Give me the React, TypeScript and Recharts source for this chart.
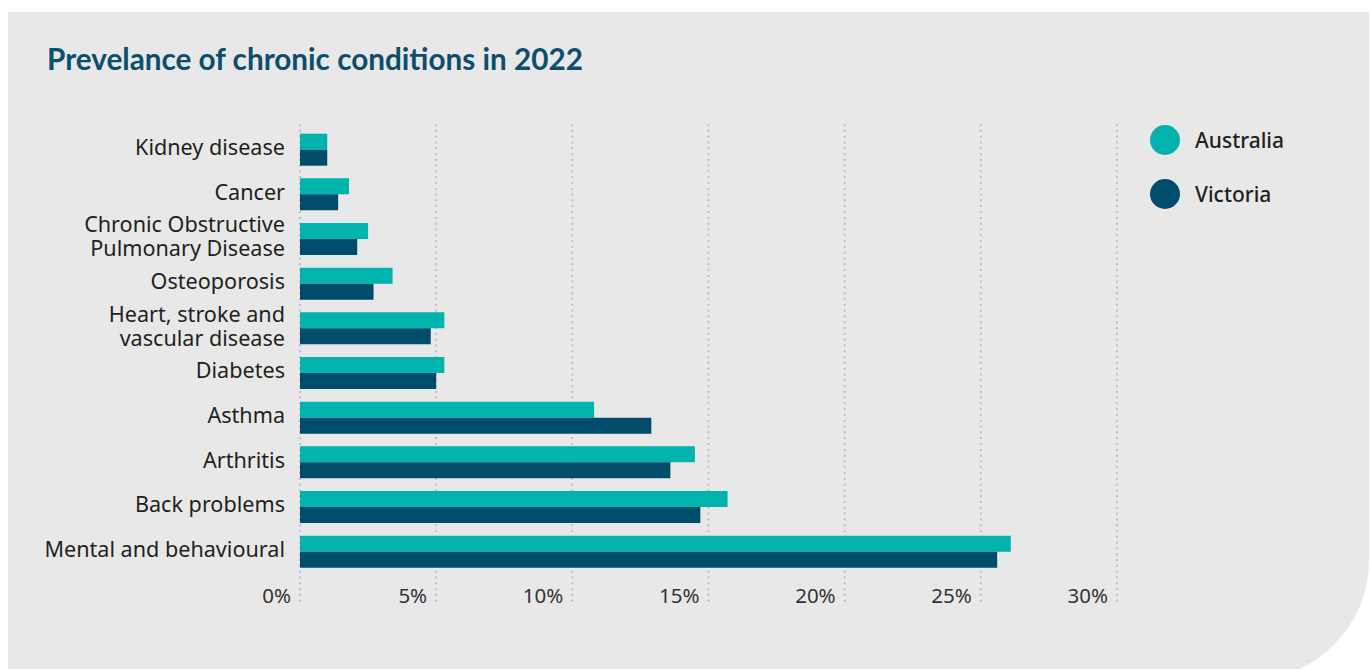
import React from 'react';
import { BarChart, Bar, XAxis, YAxis, CartesianGrid, Legend } from 'recharts';

const conditions = [
  'Kidney disease',
  'Cancer',
  'Chronic Obstructive\nPulmonary Disease',
  'Osteoporosis',
  'Heart, stroke and\nvascular disease',
  'Diabetes',
  'Asthma',
  'Arthritis',
  'Back problems',
  'Mental and behavioural',
];
const australia = [1.0, 1.8, 2.5, 3.4, 5.3, 5.3, 10.8, 14.5, 15.7, 26.1];
const victoria = [1.0, 1.4, 2.1, 2.7, 4.8, 5.0, 12.9, 13.6, 14.7, 25.6];
const xTicks = [0, 5, 10, 15, 20, 25, 30];

const AUS = '#00b3ad';
const VIC = '#004c6c';
const GRID = '#bdbdbd';
const FONT = '"Noto Sans", Lato, sans-serif';
const TITLE_FONT = 'Lato, "Noto Sans", sans-serif';

const data = conditions.map((name, i) => ({
  name,
  Australia: australia[i],
  Victoria: victoria[i],
}));

// category labels, wrapped on \n, right-aligned against the bars
const CategoryTick = (props: any) => {
  const { x, y, payload } = props;
  const lines = String(payload.value).split('\n');
  const first = lines.length > 1 ? -7 : 5;
  return (
    <text x={x - 7} y={y} textAnchor="end" fill="#231f20" fontSize={21.6} fontFamily={FONT}>
      {lines.map((l, i) => (
        <tspan key={i} x={x - 7} dy={i === 0 ? first : 24}>{l}</tspan>
      ))}
    </text>
  );
};

const PercentTick = (props: any) => {
  const { x, y, payload } = props;
  return (
    <text x={x - 9} y={y} dy={-9} textAnchor="end" fill="#333" fontSize={20.5} fontFamily={FONT}>
      {`${payload.value}%`}
    </text>
  );
};

const LegendContent = (props: any) => {
  const { payload } = props;
  return (
    <div style={{ fontFamily: FONT }}>
      {payload.map((p: any) => (
        <div key={p.value} style={{ display: 'flex', alignItems: 'center', height: 54 }}>
          <span style={{ width: 30, height: 30, borderRadius: 15, background: p.color, display: 'inline-block' }} />
          <span style={{ marginLeft: 15, fontSize: 21, fontWeight: 500, color: '#231f20' }}>{p.value}</span>
        </div>
      ))}
    </div>
  );
};

export default function App() {
  return (
    <div style={{ position: 'fixed', left: 0, top: 0, width: 1372, height: 669, overflow: 'hidden', background: '#fff' }}>
      <div
        style={{
          position: 'absolute', left: 8, top: 12, width: 1361, height: 668,
          background: '#e8e8e8', borderBottomRightRadius: 120,
        }}
      />
      <svg style={{ position: 'absolute', left: 0, top: 0 }} width={1372} height={100}>
        <text x={47} y={70} fill="#0b4f6c" fontSize={29.7} fontWeight={700} fontFamily={TITLE_FONT}>
          Prevelance of chronic conditions in 2022
        </text>
      </svg>
      <div style={{ position: 'absolute', left: 0, top: 0 }}>
        <BarChart
          width={1372}
          height={669}
          data={data}
          layout="vertical"
          barSize={16}
          barGap={0}
          margin={{ top: 125, right: 255, bottom: 35, left: 0 }}
        >
          <CartesianGrid
            horizontal={false}
            stroke={GRID}
            strokeWidth={2.2}
            strokeDasharray="0.1 5.7"
            strokeLinecap="round"
          />
          <XAxis
            type="number"
            domain={[0, 30]}
            ticks={xTicks}
            axisLine={false}
            tickLine={false}
            height={30}
            tick={<PercentTick />}
          />
          <YAxis
            type="category"
            dataKey="name"
            width={300}
            axisLine={false}
            tickLine={false}
            interval={0}
            padding={{ top: 2.7, bottom: 29.7 }}
            tick={<CategoryTick />}
          />
          <Legend
            layout="vertical"
            align="center"
            verticalAlign="middle"
            wrapperStyle={{ left: 1150, top: 113, width: 200 }}
            content={<LegendContent />}
          />
          <Bar dataKey="Australia" fill={AUS} isAnimationActive={false} />
          <Bar dataKey="Victoria" fill={VIC} isAnimationActive={false} />
        </BarChart>
      </div>
    </div>
  );
}
